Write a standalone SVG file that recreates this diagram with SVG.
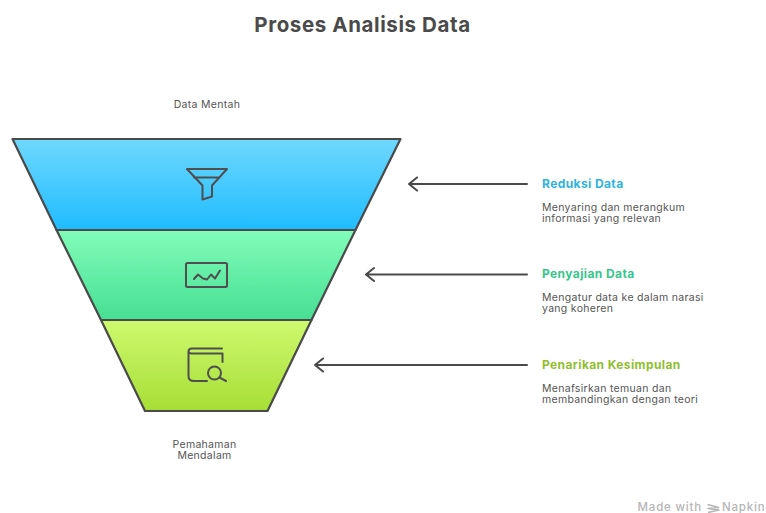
<svg xmlns="http://www.w3.org/2000/svg" width="766" height="513" viewBox="0 0 766 513">
<style>
text{font-family:"Inter","Liberation Sans",sans-serif}
.title{font-size:20.500px;font-weight:700;fill:#4a4a4a;letter-spacing:.6px}
.sm{font-size:10.500px;fill:#555;letter-spacing:.3px}
.hd{font-size:12px;font-weight:700;letter-spacing:.4px}
.wm{font-size:11.500px;fill:#b5b5b5;font-weight:500;letter-spacing:.8px}
.band{stroke:#4a4a4a;stroke-width:2.2;stroke-linejoin:round}
.ic{fill:none;stroke:#4f4f4f;stroke-width:2;stroke-linejoin:round;stroke-linecap:round}
.conn{fill:none;stroke:#4a4a4a;stroke-width:2;stroke-linecap:round;stroke-linejoin:round}
</style>
<defs>
<linearGradient id="g1" x1="0" y1="0" x2="0" y2="1"><stop offset="0" stop-color="#6fd8fd"/><stop offset="1" stop-color="#1fbcff"/></linearGradient>
<linearGradient id="g2" x1="0" y1="0" x2="0" y2="1"><stop offset="0" stop-color="#81fcb9"/><stop offset="1" stop-color="#46df93"/></linearGradient>
<linearGradient id="g3" x1="0" y1="0" x2="0" y2="1"><stop offset="0" stop-color="#cef96f"/><stop offset="1" stop-color="#a6de35"/></linearGradient>
</defs>
<text class="title" x="362.500" y="32" text-anchor="middle">Proses Analisis Data</text>
<g id="label-top"><text class="sm" x="207" y="108" text-anchor="middle">Data Mentah</text></g>
<g id="node-reduksi">
<path class="band" fill="url(#g1)" d="M12.500 139H400.500L355.500 230H56.500Z"/>
<path class="ic" d="M187 169H227L212 185.500V196.500L202.500 199.500V185.500ZM194 177.500H219.500"/>
</g>
<g id="node-penyajian">
<path class="band" fill="url(#g2)" d="M56.500 230H355.500L311.500 320H101Z"/>
<rect class="ic" x="186" y="263" width="41" height="24" rx="1.500"/>
<path class="ic" d="M194 279L198 274.500L203 278.500L207 279.500L211 274.500L215 278.500L220 270.500"/>
</g>
<g id="node-penarikan">
<path class="band" fill="url(#g3)" d="M101 320H311.500L267.500 411H145Z"/>
<path class="ic" d="M207 381H194Q188.500 381 188.500 376V351.500Q188.500 348.500 192 348.500H222M188.500 351.500Q188.500 353.500 192 353.500H222.500V362"/>
<circle class="ic" cx="214.500" cy="373" r="6.500"/>
<path class="ic" d="M219.500 377.500L226 381"/>
</g>
<g id="label-bottom"><text class="sm" x="204.500" y="448" text-anchor="middle">Pemahaman</text><text class="sm" x="204.500" y="459" text-anchor="middle">Mendalam</text></g>
<g id="connectors">
<path class="conn" d="M527 184H409M417 177.500L409 184L417 190.500"/>
<path class="conn" d="M527 274.500H366M374 268L366 274.500L374 281"/>
<path class="conn" d="M527 365H315M323 358.500L315 365L323 371.500"/>
</g>
<g id="text-reduksi"><text class="hd" x="542" y="187.500" fill="#2bb4e2">Reduksi Data</text><text class="sm" x="542" y="210.500">Menyaring dan merangkum</text><text class="sm" x="542" y="221.500">informasi yang relevan</text></g>
<g id="text-penyajian"><text class="hd" x="542" y="278" fill="#35c78a">Penyajian Data</text><text class="sm" x="542" y="301">Mengatur data ke dalam narasi</text><text class="sm" x="542" y="312">yang koheren</text></g>
<g id="text-penarikan"><text class="hd" x="542" y="368.500" fill="#8fbf2f">Penarikan Kesimpulan</text><text class="sm" x="542" y="391.500">Menafsirkan temuan dan</text><text class="sm" x="542" y="402.500">membandingkan dengan teori</text></g>
<g id="watermark"><text class="wm" x="637.500" y="510.500">Made with</text>
<path d="M707.500 504.500L718.500 507.500L708 508.500L719 510L708 512.500" fill="none" stroke="#b5b5b5" stroke-width="1.600" stroke-linejoin="round"/>
<text class="wm" x="722" y="510.500">Napkin</text></g>
</svg>
